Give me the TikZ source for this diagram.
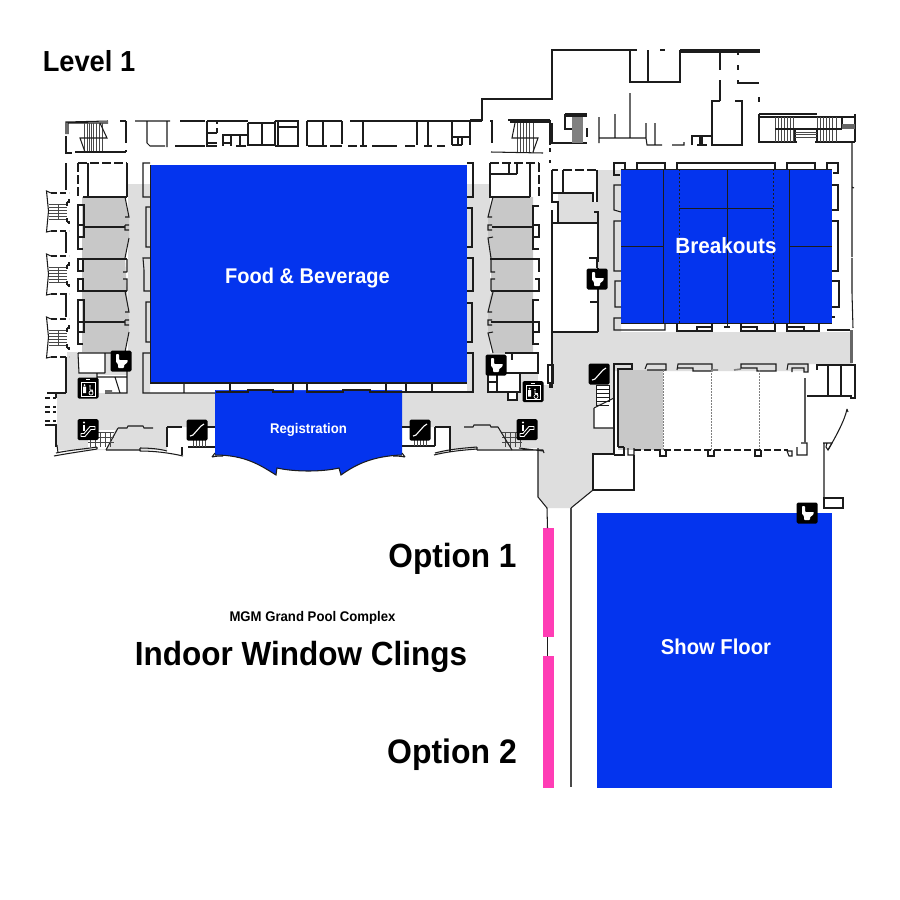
\documentclass[tikz,border=0pt]{standalone}
\usepackage{fontspec}
\setmainfont[FakeStretch=0.94]{Liberation Sans}
\definecolor{bluefill}{HTML}{0434EE}
\definecolor{lightg}{HTML}{DEDEDE}
\definecolor{darkg}{HTML}{C8C8C8}
\definecolor{pinkbar}{HTML}{FF3DB5}
\definecolor{wallc}{HTML}{1C1C1C}
\tikzset{
 wall/.style={draw=wallc,line width=1.05pt,line cap=butt,line join=miter},
 dash wall/.style={wall,dash pattern=on 9pt off 3pt},
 dot wall/.style={draw=gray,line width=.6pt,dash pattern=on 1.5pt off 1.5pt},
 tread/.style={draw=wallc!80,line width=.7pt},
 label/.style={font=\bfseries,text=black,inner sep=0pt},
 wlabel/.style={font=\bfseries,text=white,inner sep=0pt},
 sidestair/.pic={
  \draw[wall] (5,2)--(0.5,0)--(2.5,20)--(0.5,41)--(5,40);
  \draw[wall,dash pattern=on 6pt off 3pt] (5,2)--(23,2);
  \draw[wall,dash pattern=on 6pt off 3pt] (5,40)--(23,40);
  \foreach \yy in {13,16,19,22,25,28} {\draw[tread] (3,\yy)--(21,\yy);}
  \draw[tread] (12,13)--(12,28);
  \draw[wall] (21,11)--(21,15) (21,27)--(21,31) (21,31)--(23,31)--(23,33) (21,11)--(23,11)--(23,8);
 },
 toilet/.pic={
  \fill[black,rounded corners=1.5pt] (-10.5,-10.5) rectangle (10.5,10.5);
  \fill[white,rounded corners=.8pt] (-5,-7)--(-2,-7)--(-2,-1)--(7,-1)--(6,2)--(3,4)--(3,7)--(-3,7)--(-3,3)--(-5,1)--cycle;
 },
 slash/.pic={
  \fill[black,rounded corners=1.5pt] (-10.5,-10.5) rectangle (10.5,10.5);
  \draw[white,line width=1.1pt] (-7,6)--(-4,5)--(4,-4)--(7,-6);
 },
 escal/.pic={
  \fill[black,rounded corners=1.5pt] (-10.5,-10.5) rectangle (10.5,10.5);
  \draw[white,line width=.9pt,line join=round] (-7,7)--(-3,7)--(3,0)--(7,0)--(7,-3)--(2,-3)--(-4,4)--(-7,4)--cycle;
  \fill[white] (-4,-7) circle (1.1);
  \draw[white,line width=1.2pt] (-4,-5)--(-4,1);
 },
 elev/.pic={
  \fill[black,rounded corners=1.5pt] (-10.5,-10.5) rectangle (10.5,10.5);
  \draw[white,line width=.7pt] (-7,-6) rectangle (7,8);
  \fill[white] (-3.5,-3) circle (1) (-5,-1.5) rectangle (-2,5);
  \fill[white] (2,-2) circle (.9);
  \draw[white,line width=.7pt] (2,-1)--(2,2)--(4.5,2)--(5,5) (3,5) circle (2);
  \fill[white] (-2,-9) rectangle (2,-8);
 },
}
\begin{document}
\begin{tikzpicture}[x=1pt,y=-1pt]
\useasboundingbox (0,0) rectangle (900,900);
\fill[white] (0,0) rectangle (900,900);

% ---- light gray circulation
\fill[lightg] (128,184)--(150,184)--(150,393)--(215,393)--(215,427)--(167,427)--(167,450)--(57,450)--(57,393)--(67,393)--(67,352)--(128,352)--cycle;
\fill[lightg] (467,184)--(490,184)--(490,353)--(538,353)--(538,385)--(552,385)--(552,332)--(598,332)--(598,170)--(621,170)--(621,332)--(852,332)--(852,364)--(809,364)--(809,371)--(614,371)--(614,454)--(593,454)--(593,490)--(571,508)--(547,508)--(538,497)--(538,448)--(450,450)--(450,427)--(402,427)--(402,392)--(467,392)--cycle;
\fill[lightg] (552,193)--(593,193)--(593,202)--(598,202)--(598,223)--(552,223)--cycle;
% white rooms over the circulation
\fill[white] (79,353) rectangle (105,373);
\fill[white] (97,375) rectangle (127,393);
\fill[white] (505,353) rectangle (538,373);
\fill[white] (488,373) rectangle (520,392);
\fill[white] (508,392) rectangle (517,400);
\fill[white] (538,353) rectangle (552,381);
\fill[white] (552,193) rectangle (558,223);
\fill[white] (552,223) rectangle (598,332);
\fill[white] (594,408)--(614,398)--(614,428)--(594,428)--cycle;
\fill[white] (596,385) rectangle (609,403);
\fill[white] (88,430)--(115,430)--(106,449)--(88,449)--cycle;

% ---- darker rooms
\fill[darkg] (82,197)--(125,197)--(129,217)--(129,237)--(125,259)--(127,291)--(129,320)--(129,332)--(125,352)--(82,352)--cycle;
\fill[darkg] (533,197)--(493,197)--(488,217)--(488,238)--(491,259)--(491,291)--(488,310)--(488,332)--(493,353)--(533,353)--cycle;
\fill[darkg] (618,370) rectangle (663,450);

% ---- blue halls
\fill[bluefill] (150.5,165) rectangle (467,383);
\fill[bluefill] (621,169) rectangle (832,323);
\fill[bluefill] (597,513) rectangle (832,788);
\path[fill=bluefill,draw=none] (215,390)--(215,455) .. controls (245,455) and (260,465) .. (276,475)--(277,468) .. controls (295,472) and (322,472) .. (339,468)--(341,475) .. controls (355,465) and (372,456) .. (402,455)--(402,390)--cycle;
\draw[wall] (215,455) .. controls (245,455) and (260,465) .. (276,475)--(277,468) .. controls (295,472) and (322,472) .. (339,468)--(341,475) .. controls (355,465) and (372,456) .. (402,455);
\fill[white] (216,384) rectangle (230,390) (293,384) rectangle (307,390) (387,384) rectangle (402,390);

% ---- pink bars
\fill[pinkbar] (543,528) rectangle (554,637);
\fill[pinkbar] (543,656) rectangle (554,788);
\draw[wall] (547.5,637)--(547.5,656);

% ---- breakout internal lines
\draw[wall,line width=.9pt] (663,169)--(663,323) (789,169)--(789,323) (727,169)--(727,327);
\draw[wall,line width=.9pt] (621,246)--(663,246) (789,246)--(832,246) (679,208)--(773,208);
\draw[wall,line width=.4pt,dash pattern=on 2pt off 2pt] (679,169)--(679,323) (773,169)--(773,323);
\draw[wall,line width=.8pt] (150.5,165)--(150.5,383)--(467,383);
\draw[wall,line width=.5pt] (621,169)--(832,169) (621,323)--(832,323);

% ---- top row of left/centre
\draw[wall] (66,134)--(66,122)--(108,121) (108,123)--(68,123)--(68,134);
\foreach \xx in {84,87,89,91,93,96,99,102} {\draw[tread] (\xx,123)--(\xx,152);}
\draw[wall] (100,123)--(107,138)--(80,138)--(85,152);
\draw[wall] (66,136)--(66,153)--(72,153) (75,152)--(126,152);
\draw[wall] (126,121)--(126,143) (126,150)--(126,152) (120,121)--(126,121);
\draw[wall] (135,121)--(170,121) (147,121)--(147,143)--(150,146)--(165,146) (167,121)--(167,147);
\draw[wall] (180,121)--(205,121) (175,146)--(205,146);
\draw[wall] (207,121)--(207,146)--(217,146) (207,121)--(248,121) (207,133)--(217,133) (217,121)--(217,124) (217,128)--(217,133) (207,143)--(217,143);
\draw[wall] (222,135)--(247,135) (223,135)--(223,146) (222,143)--(231,143) (231,135)--(231,146) (240,135)--(240,146) (236,146)--(246,146);
\draw[wall] (248,123)--(248,145)--(275,145)--(275,121) (248,123)--(275,123) (262,123)--(262,145);
\draw[wall] (275,121)--(298,121)--(298,146)--(275,146) (278,121)--(278,146) (278,127)--(298,127);
\draw[wall] (307,121)--(342,121) (307,121)--(307,146) (323,121)--(323,146) (342,121)--(342,144) (308,146)--(327,146) (330,146)--(342,146);
\draw[wall] (350,121)--(482,121) (363,121)--(363,146) (348,146)--(357,146) (360,146)--(367,146) (372,146)--(397,146) (405,146)--(415,146) (424,146)--(432,146) (437,146)--(445,146);
\draw[wall] (417,121)--(417,145) (428,121)--(428,145) (452,121)--(452,145) (470,121)--(470,145) (452,137)--(470,137) (452,145)--(462,145) (462,137)--(462,145) (458,137)--(458,145);
\draw[wall] (470,120)--(482,120)--(482,99)--(552,99)--(552,50)--(630,50);
\draw[wall] (490,121)--(493,121) (492,121)--(492,143);

% ---- centre-right stairs and top block
\draw[wall] (508,120)--(550,120) (510,122)--(550,122);
\foreach \xx in {517,520,523,526,529,533} {\draw[tread] (\xx,123)--(\xx,152);}
\draw[wall] (515,123)--(512,138)--(538,138)--(533,152) (491,152)--(543,153);
\draw[wall] (550,120)--(550,145) (552,123)--(552,143)--(587,143);
\draw[wall] (550,148)--(550,152) (550,160)--(550,163);
\draw[wall] (565,114)--(587,114) (565,116)--(587,116) (565,114)--(565,129)--(579,129) (587,128)--(587,137);
\fill[gray] (572,117) rectangle (583,143);
\draw[wall] (599,117)--(599,143) (599,138)--(646,138) (615,114)--(615,138) (630,93)--(630,138) (646,123)--(646,138)--(647,145)--(662,145) (655,123)--(655,145) (672,145)--(684,145)--(684,142);
\draw[wall] (692,145)--(692,136)--(712,136) (700,136)--(700,145) (702,136)--(702,145) (697,145)--(707,145);
\draw[wall] (720,101)--(712,101)--(712,145)--(742,145)--(742,101)--(735,101);
\draw[wall] (720,50)--(720,70) (720,80)--(720,101) (738,53)--(738,55) (738,65)--(738,70) (738,80)--(738,83)--(759,83) (759,97)--(759,102);
\draw[wall] (630,50)--(630,82)--(680,82)--(680,50) (648,50)--(648,82);
\draw[wall] (630,50)--(637,50) (660,50)--(665,50) (680,50)--(760,50) (680,52)--(760,52);

% ---- far-right stairs
\draw[wall] (759,114)--(817,114) (759,117)--(855,117) (759,114)--(759,142)--(797,142) (815,142)--(855,142) (855,114)--(855,142);
\foreach \xx in {775,778,781,784,787,790,793} {\draw[tread] (\xx,117)--(\xx,142);}
\foreach \xx in {817,820,823,826,829,832,836} {\draw[tread] (\xx,117)--(\xx,142);}
\draw[wall] (775,129)--(842,129) (795,129)--(795,142) (817,129)--(817,142) (842,117)--(842,129);
\draw[tread] (795,132)--(817,132) (795,134)--(817,134) (795,137)--(817,137);
\fill[gray!80!black] (842,124) rectangle (855,129);
\draw[wall] (852,142)--(852,187)--(854,188) (852,187)--(852,257) (852,258)--(852,293)--(853,328);
\fill[gray!80!black] (850,330) rectangle (852.5,363);

% ---- left wing
\draw[wall] (66,163)--(66,190) (66,232)--(66,253) (66,293)--(66,317) (66,357)--(66,393) (47,393)--(66,393);
\pic at (46,191) {sidestair};
\pic at (46,254) {sidestair};
\pic at (46,317) {sidestair};
\foreach \yy in {398,407,412,421,425} {\draw[wall] (45,\yy)--(50,\yy) (53,\yy)--(56,\yy);}
\draw[wall] (56,393)--(56,398) (47,425)--(56,425)--(56,447);
\draw[dash wall] (78,163)--(127,163);
\draw[dash wall] (78,163)--(78,197);
\draw[wall] (88,163)--(88,197) (127,163)--(127,197) (83,197)--(127,197);
% rooms
\draw[wall] (84,227)--(125,227) (82,259)--(127,259) (82,291)--(127,291) (84,322)--(125,322);
\draw[wall] (125,197)--(129,217)--(125,217) (125,225)--(129,225) (125,225)--(125,230)--(129,230) (129,238)--(125,258) (127,259)--(127,272) (123,272)--(127,272) (123,279)--(127,279)--(127,291) (125,291)--(129,312)--(125,312) (125,320)--(129,320) (125,320)--(125,325)--(129,325) (129,332)--(125,352);
\draw[wall] (78,205)--(84,205)--(84,237)--(78,237)--cycle (78,225)--(84,225) (78,238)--(78,249)--(83,249);
\draw[wall] (78,259)--(83,259)--(83,271)--(78,271)--cycle (78,279)--(83,279)--(83,291)--(78,291)--cycle;
\draw[wall] (78,300)--(84,300)--(84,332)--(78,332)--cycle (78,322)--(84,322) (78,333)--(78,344)--(83,344);
% rooms at bottom
\draw[wall] (78,353)--(111,353) (78,353)--(79,373)--(105,373) (105,353)--(105,373) (97,373)--(97,393) (127,371)--(127,393)--(105,393) (97,377)--(127,377) (115,377)--(120,393) (115,393)--(120,393) (105,391)--(112,391);
% food & bev pilasters
\draw[wall] (150,163)--(143,163)--(143,197)--(150,197) (150,207)--(146,207)--(146,247)--(150,247) (150,258)--(143,258)--(144,270)--(144,291)--(150,291) (150,302)--(146,302)--(146,342)--(150,342) (150,353)--(143,353)--(143,393)--(215,393) (184,383)--(184,393);
\draw[wall] (150,383)--(467,383);
\draw[wall] (230,384)--(230,392)--(248,392)--(248,390)--(273,390)--(273,392)--(293,392)--(293,384) (307,384)--(307,392)--(343,392)--(343,390)--(370,390)--(370,392)--(386,392)--(386,384);
\draw[wall] (216,392)--(230,392) (387,392)--(402,392);
% left lobby bottom
\draw[wall] (57,445)--(58,453) (54,456) .. controls (70,453) and (85,451) .. (97,449) (56,453) .. controls (70,450) and (85,449) .. (97,447) (97,447)--(97,449);
\draw[wall] (106,450)--(140,450) (140,448) .. controls (150,448) and (160,449) .. (167,451) (140,451) .. controls (155,451) and (170,453) .. (183,456) (140,448)--(140,451);
\draw[wall] (118,428)--(106,450) (118,428)--(127,428)--(128,426)--(143,426)--(144,428)--(153,428);
\foreach \yy in {432,437,442} {\draw[tread] (88,\yy)--(114,\yy);}
\foreach \xx in {90,95,100,105,110} {\draw[tread] (\xx,432)--(\xx,447);}
\draw[wall] (167,427)--(182,427) (167,427)--(167,447) (182,447)--(182,455) (188,447)--(215,447) (207,427)--(215,427);
\foreach \xx in {193,196,199,202,205} {\draw[tread] (\xx,440)--(\xx,447);}
\draw[wall] (212,457)--(215,453) (212,457) .. controls (216,456) and (220,456) .. (223,456);
\draw[wall] (405,457)--(402,453) (405,457) .. controls (400,456) and (396,456) .. (393,456);

% ---- right wing
\draw[dash wall] (490,163)--(539,163);
\draw[dash wall] (539,163)--(539,197);
\draw[wall] (490,163)--(490,197)--(530,197) (509,163)--(509,174) (517,163)--(517,174) (490,174)--(517,174) (530,163)--(530,197);
\draw[wall] (539,206)--(533,206)--(533,249)--(539,249) (533,225)--(539,225)--(539,237)--(533,237) ;
\draw[wall] (490,259)--(533,259)--(539,259)--(539,272) (535,279)--(539,279)--(539,291)--(491,291);
\draw[wall] (539,300)--(533,300)--(533,344)--(539,344) (533,322)--(539,322)--(539,332)--(533,332);
\draw[wall] (492,227)--(533,227) (491,322)--(533,322);
\draw[wall] (493,197)--(488,217)--(492,217) (492,225)--(488,225)--(488,230)--(492,230) (493,237)--(488,238)--(491,258) (491,259)--(491,272)--(495,272) (495,279)--(491,279)--(491,291) (493,292)--(488,312)--(492,312) (492,320)--(488,320)--(488,325)--(492,325) (493,332)--(488,333)--(493,353);
\draw[wall] (505,353)--(538,353)--(538,373)--(505,373) (512,353)--(512,360) (488,375)--(488,392)--(520,392)--(520,373) (497,373)--(497,392) (488,382)--(497,382) (508,392)--(508,400)--(517,400)--(517,392);
% food & bev right pilasters
\draw[wall] (467,163)--(473,163)--(473,197)--(467,197) (467,208)--(472,208)--(472,247)--(467,247) (467,258)--(473,258)--(473,291)--(467,291) (467,303)--(472,303)--(472,342)--(467,342) (467,353)--(473,353)--(473,392)--(402,392) (432,383)--(432,392) (406,383)--(406,392);
% right lobby bottom
\foreach \yy in {432,437,442} {\draw[tread] (502,\yy)--(522,\yy);}
\foreach \xx in {505,510,515,520} {\draw[tread] (\xx,432)--(\xx,447);}
\draw[wall] (498,427)--(512,450) (464,427)--(473,427)--(474,425)--(490,425)--(491,427)--(498,427);
\draw[wall] (519,448)--(543,451) (477,450)--(543,450) (543,450)--(544,453) ;
\draw[wall] (434,455) .. controls (450,451) and (465,450) .. (477,449) (435,453) .. controls (450,449) and (465,448) .. (477,447) (477,447)--(477,450);
\draw[wall] (435,427)--(450,427)--(450,452) (435,427)--(435,446) (402,427)--(410,427) (402,446)--(435,446);
\foreach \xx in {414,417,420,423,426} {\draw[tread] (\xx,440)--(\xx,446);}

% ---- middle wall and rooms
\draw[wall] (552,170)--(552,203) (552,210)--(552,388) (548,365)--(553,365)--(553,383)--(548,383)--cycle (550,383)--(550,388);
\draw[wall] (552,170)--(558,170);
\draw[dash wall] (563,170)--(597,170);
\draw[wall] (563,170)--(563,193) (551,193)--(593,193)--(593,202) (552,202)--(558,202)--(558,223) (552,223)--(598,223) (594,212)--(598,212)--(598,262) (598,268)--(598,332) (552,332)--(598,332) (597,170)--(597,202);
\draw[wall] (589,258)--(597,258)--(597,268) (590,302)--(597,302);

% ---- around breakouts
\draw[wall] (625,169)--(625,163)--(614,163)--(614,175)--(620,175) (637,169)--(637,163)--(665,163)--(665,169) (677,169)--(677,163)--(775,163)--(775,169) (787,169)--(787,163)--(815,163)--(815,169) (827,169)--(827,163)--(838,163)--(838,173)--(833,173);
\draw[wall] (621,185)--(614,185)--(614,210)--(621,212) (621,221)--(614,221)--(614,271)--(621,271) (621,281)--(615,281)--(615,307)--(621,307) (621,318)--(614,318)--(614,330)--(665,330)--(665,323);
\draw[wall] (832,185)--(838,185)--(838,210)--(832,210) (832,221)--(838,221)--(838,271)--(832,271) (832,281)--(839,281)--(839,307)--(832,307) (832,317)--(835,317);
\draw[wall] (677,323)--(677,331)--(712,331)--(712,323) (697,331)--(697,327)--(712,327) (741,323)--(741,331)--(775,331)--(775,323) (741,327)--(757,327)--(757,331) (787,323)--(787,331)--(819,331)--(819,323) (787,327)--(804,327)--(804,331) (827,330)--(850,330) (724,327)--(730,327);

% ---- lower room
\draw[wall] (614,455)--(614,364)--(632,364)--(632,369)--(633,369) (618,447)--(618,369)--(632,369) (614,455)--(624,455)--(624,447) (618,447)--(624,447);
\draw[wall] (645,369)--(647,364)--(666,364)--(666,370)--(647,370) (677,370)--(678,364)--(712,364)--(712,371)--(693,371)--(693,368)--(678,368);
\draw[wall,gray,line width=1.6pt] (712,370)--(718,370) (734,370)--(741,369);
\draw[wall] (741,364)--(776,364)--(776,371)--(757,371)--(757,368)--(741,368)--cycle (787,370)--(788,364)--(808,364)--(808,372)--(804,372)--(804,368)--(792,368)--(792,372);
\draw[dot wall] (663,370)--(663,450) (711,370)--(711,450) (759,370)--(759,450);
\draw[wall,dash pattern=on 7pt off 3pt] (634,450)--(788,450);
\draw[wall] (660,450)--(660,456)--(666,456)--(666,450) (708,450)--(708,456)--(714,456)--(714,450) (755,450)--(755,456)--(761,456)--(761,450);
\draw[wall] (628,448)--(628,455)--(634,455)--(634,448) (787,451)--(792,451)--(792,456)--(789,456)--(787,451) (797,447)--(797,455)--(807,455)--(807,443)--(801,443);
\draw[wall] (634,455)--(634,490)--(593,490)--(593,454)--(614,454);
\draw[draw=gray!70!black,line width=2pt] (805,378)--(805,443);
\draw[wall] (816,365)--(855,365)--(855,398)--(851,398)--(851,396)--(807,396) (828,365)--(828,396) (841,365)--(841,396) (817,365)--(817,370);
\draw[wall] (594,408)--(614,398) (594,408)--(594,428)--(614,428);
\foreach \yy in {385,389,393,397,401,405} {\draw[wall,line width=.7pt] (596,\yy)--(609,\yy);}
\draw[wall,line width=.7pt] (596,385)--(596,406) (609,385)--(609,402);
\draw[wall] (847,409) .. controls (845,420) and (835,438) .. (828,450) (847,409)--(848,412);
\draw[wall] (823,443)--(832,443)--(828,450)--(826,447)--(827,443) (824,443)--(824,498);
\draw[wall] (824,498)--(843,498)--(843,508)--(824,508)--cycle;

% ---- lower corridor
\draw[wall] (538,448)--(538,497)--(547,508)--(547.5,528);
\draw[wall] (593,490)--(571,508);
\draw[draw=wallc!80,line width=1.1pt] (571,508)--(571,787);

% ---- icons
\pic at (121,361) {toilet};
\pic at (496,365) {toilet};
\pic at (597,279) {toilet};
\pic at (807,513) {toilet};
\pic at (88,388) {elev};
\pic at (533,391.5) {elev};
\pic at (88,429.5) {escal};
\pic at (527,429.5) {escal};
\pic at (197,430) {slash};
\pic at (420,430) {slash};
\pic at (599,374) {slash};

% ---- labels
\node[label,font=\bfseries\fontsize{29}{30}\selectfont] (lv) at (89,61.5) {Level 1};
\node[wlabel,font=\bfseries\fontsize{21.3}{22}\selectfont] (fb) at (307.5,278.5) {Food \& Beverage};
\node[wlabel,font=\bfseries\fontsize{22}{24}\selectfont] (br) at (726,246) {Breakouts};
\node[wlabel,font=\bfseries\fontsize{14}{16}\selectfont] (rg) at (308.5,429.5) {Registration};
\node[wlabel,font=\bfseries\fontsize{21.5}{24}\selectfont] (sf) at (716,647) {Show Floor};
\node[label,font=\bfseries\fontsize{33.6}{34}\selectfont] (o1) at (452.5,559) {Option 1};
\node[label,font=\bfseries\fontsize{34}{35}\selectfont] (o2) at (452,755) {Option 2};
\node[label,font=\bfseries\fontsize{14}{15}\selectfont] (mg) at (312.5,617.5) {MGM Grand Pool Complex};
\node[label,font=\bfseries\fontsize{33.5}{35}\selectfont] (wc) at (301,657) {Indoor Window Clings};
\end{tikzpicture}
\end{document}
